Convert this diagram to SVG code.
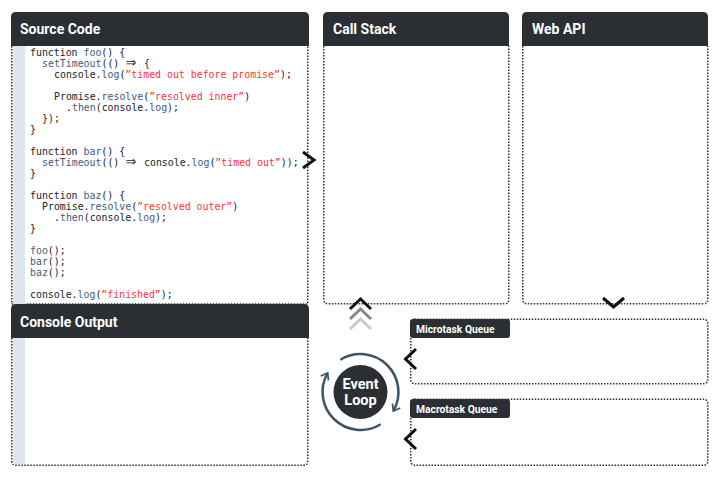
<svg xmlns="http://www.w3.org/2000/svg" width="720" height="480" viewBox="0 0 720 480">
<defs>
<style>
.box{fill:#fff;stroke:#2b2e33;stroke-width:1.5;stroke-dasharray:1.5 1.5}
.hdr{fill:#2b2e33}
.ht{font-family:Roboto,"Liberation Sans",sans-serif;font-weight:700;font-size:14px;fill:#fff}
.tt{font-family:Roboto,"Liberation Sans",sans-serif;font-weight:700;font-size:10.3px;fill:#fff}
.code{font-family:"DejaVu Sans Mono","Liberation Mono",monospace;font-size:9.9px;fill:#1e2024}
.arr{font-family:"DejaVu Sans","Liberation Sans",sans-serif;font-size:13px}
.f{fill:#3f5a7a}
.s{fill:#f0363a}
.chev{fill:none;stroke:#111;stroke-width:3;stroke-linejoin:miter}
.ring{fill:none;stroke:#3d5468;stroke-width:2.5}
</style>
<marker id="ah" viewBox="-8 -6 10 12" markerWidth="10" markerHeight="12" markerUnits="userSpaceOnUse" orient="auto" refX="0" refY="0">
<path d="M-6,-4.5 L0,0 L-6,4.5" fill="none" stroke="#3d5468" stroke-width="1.8"/>
</marker>
</defs>
<rect width="720" height="480" fill="#fff"/>

<g id="source-code">
<path class="box" d="M11.75 46 V304 H307.75 V46"/>
<rect x="13" y="46" width="12" height="258" fill="#e1e6ee"/>
<path class="hdr" d="M11 46 V17 Q11 12 16 12 H304 Q309 12 309 17 V46 Z"/>
<text class="ht" x="20" y="34">Source Code</text>
<g class="code">
<text x="30" y="55.5">function <tspan class="f">foo</tspan>() {</text>
<text x="42" y="66.5"><tspan class="f">setTimeout</tspan>(() </text>
<text class="arr" x="125.5" y="67">⇒</text>
<text x="144" y="66.5">{</text>
<text x="54" y="77.5">console.<tspan class="f">log</tspan>(<tspan class="s">”timed out before promise”</tspan>);</text>
<text x="54" y="99.5">Promise.<tspan class="f">resolve</tspan>(<tspan class="s">”resolved inner”</tspan>)</text>
<text x="66" y="110.5">.<tspan class="f">then</tspan>(console.<tspan class="f">log</tspan>);</text>
<text x="42" y="121.5">});</text>
<text x="30" y="132.5">}</text>
<text x="30" y="154.5">function <tspan class="f">bar</tspan>() {</text>
<text x="42" y="165.5"><tspan class="f">setTimeout</tspan>(() </text>
<text class="arr" x="125.5" y="166">⇒</text>
<text x="144" y="165.5">console.<tspan class="f">log</tspan>(<tspan class="s">”timed out”</tspan>));</text>
<text x="30" y="176.5">}</text>
<text x="30" y="198.5">function <tspan class="f">baz</tspan>() {</text>
<text x="42" y="209.5">Promise.<tspan class="f">resolve</tspan>(<tspan class="s">”resolved outer”</tspan>)</text>
<text x="54" y="220.5">.<tspan class="f">then</tspan>(console.<tspan class="f">log</tspan>);</text>
<text x="30" y="231.5">}</text>
<text x="30" y="253.5"><tspan class="f">foo</tspan>();</text>
<text x="30" y="264.5"><tspan class="f">bar</tspan>();</text>
<text x="30" y="275.5"><tspan class="f">baz</tspan>();</text>
<text x="30" y="297.5">console.<tspan class="f">log</tspan>(<tspan class="s">”finished”</tspan>);</text>
</g>
</g>

<g id="console-output">
<path class="box" d="M11.75 338 V461 Q11.75 465.25 16 465.25 H303.5 Q307.75 465.25 307.75 461 V338"/>
<rect x="13" y="338" width="12" height="126" fill="#e1e6ee"/>
<path class="hdr" d="M11 338 V309 Q11 304 16 304 H304 Q309 304 309 309 V338 Z"/>
<text class="ht" x="20" y="327">Console Output</text>
</g>

<g id="call-stack">
<path class="box" d="M323.75 46 V299.5 Q323.75 303.75 328 303.75 H504.5 Q508.75 303.75 508.75 299.5 V46"/>
<path class="hdr" d="M323 46 V17 Q323 12 328 12 H504 Q509 12 509 17 V46 Z"/>
<text class="ht" x="333" y="34">Call Stack</text>
</g>

<g id="web-api">
<path class="box" d="M522.75 46 V299.5 Q522.75 303.75 527 303.75 H703.5 Q707.75 303.75 707.75 299.5 V46"/>
<path class="hdr" d="M522 46 V17 Q522 12 527 12 H703 Q708 12 708 17 V46 Z"/>
<text class="ht" x="532" y="34">Web API</text>
</g>

<g id="microtask-queue">
<rect class="box" x="410.75" y="319.25" width="297" height="64.5" rx="4"/>
<rect class="hdr" x="410" y="319" width="100" height="19" rx="3"/>
<text class="tt" x="416" y="332.5">Microtask Queue</text>
</g>

<g id="macrotask-queue">
<rect class="box" x="410.75" y="399.25" width="297" height="66" rx="4"/>
<rect class="hdr" x="410" y="399" width="100" height="19" rx="3"/>
<text class="tt" x="416" y="412.5">Macrotask Queue</text>
</g>

<g id="event-loop">
<circle cx="360.5" cy="392" r="27" fill="#2b2e33"/>
<text class="ht" x="360.5" y="388.5" text-anchor="middle" style="font-size:14.5px">Event</text>
<text class="ht" x="360.5" y="405" text-anchor="middle" style="font-size:14.5px">Loop</text>
<path class="ring" d="M340.4 359.8 A38 38 0 0 1 393.4 411" marker-end="url(#ah)"/>
<path class="ring" d="M380.6 424.2 A38 38 0 0 1 327.6 373" marker-end="url(#ah)"/>
</g>

<g id="connectors">
<path class="chev" d="M303 152 L314 160 L303 168"/>
<path class="chev" d="M350 309 L360.5 299 L371 309"/>
<path class="chev" d="M350 319 L360.5 309 L371 319" style="stroke:#888"/>
<path class="chev" d="M350 329 L360.5 319 L371 329" style="stroke:#c8c8c8"/>
<path class="chev" d="M603 298 L613.5 307 L624 298"/>
<path class="chev" d="M416 349 L405.5 359 L416 369"/>
<path class="chev" d="M416 429 L405.5 439 L416 449"/>
</g>
</svg>
